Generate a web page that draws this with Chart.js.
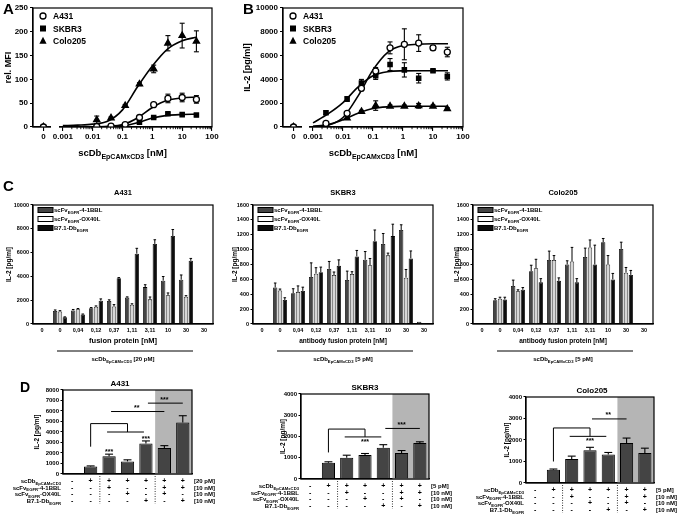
<!DOCTYPE html>
<html>
<head>
<meta charset="utf-8">
<title>Figure</title>
<script src="https://cdn.jsdelivr.net/npm/chart.js@4.4.1/dist/chart.umd.min.js"></script>
<style>
html,body{margin:0;padding:0;background:#fff;}
#fig{position:relative;width:677px;height:517px;overflow:hidden;background:#fff;}
#fig canvas{position:absolute;left:0;top:0;}
</style>
</head>
<body>
<div id="fig">
<canvas id="cA" width="677" height="517"></canvas>
<canvas id="cB" width="677" height="517"></canvas>
<canvas id="cC1" width="677" height="517"></canvas>
<canvas id="cC2" width="677" height="517"></canvas>
<canvas id="cC3" width="677" height="517"></canvas>
<canvas id="cD1" width="677" height="517"></canvas>
<canvas id="cD2" width="677" height="517"></canvas>
<canvas id="cD3" width="677" height="517"></canvas>
</div>
<script>
// ================= DATA =================
// Panel A: rel. MFI vs scDb EpCAMxCD3 [nM]
const concA = [0, 0.0137, 0.0412, 0.123, 0.37, 1.11, 3.33, 10, 30];
const mfiA431 = [0, 1, 2, 5, 20, 47, 60, 62, 58];
const mfiA431Err = [0, 0, 0, 1, 2, 2, 9, 9, 8];
const mfiSKBR3 = [0, 0, 1, 3, 10, 20, 28, 26, 25];
const mfiSKBR3Err = [0, 0, 0, 1, 1, 2, 2, 1, 2];
const mfiColo = [0, 15, 19, 45, 90, 122, 176, 192, 180];
const mfiColoErr = [0, 8, 2, 2, 3, 8, 16, 26, 22];
const fitConc = [0.001, 0.00316, 0.01, 0.0316, 0.1, 0.316, 1, 3.16, 10, 31.6];
const mfiA431Fit = [0, 0.1, 0.3, 1.4, 5, 19, 41, 56, 61, 63];
const mfiSKBR3Fit = [0, 0.1, 0.2, 0.6, 2.5, 9, 19, 24.5, 26.3, 27];
const mfiColoFit = [3, 4, 6, 12, 36, 84, 128, 163, 181, 189];

// Panel B: IL-2 [pg/ml] vs scDb EpCAMxCD3 [nM]
const concB = [0, 0.0027, 0.0137, 0.0412, 0.123, 0.37, 1.11, 3.33, 10, 30];
const il2A431 = [0, 300, 1150, 3250, 4700, 6650, 6950, 7050, 6650, 6300];
const il2A431Err = [0, 0, 100, 200, 300, 500, 1300, 700, 200, 400];
const il2SKBR3 = [0, 1200, 2350, 3700, 4300, 5250, 4800, 4100, 4730, 4250];
const il2SKBR3Err = [0, 150, 200, 300, 300, 500, 600, 400, 100, 300];
const il2Colo = [0, 200, 750, 1300, 1800, 1750, 1750, 1780, 1750, 1520];
const il2ColoErr = [0, 0, 100, 100, 400, 100, 100, 200, 100, 100];
const il2A431Fit = [30, 150, 800, 2600, 4800, 6300, 6850, 6950, 7000, 7000];
const il2SKBR3Fit = [350, 1100, 2050, 3350, 4300, 4650, 4720, 4730, 4730, 4730];
const il2ColoFit = [50, 200, 600, 1150, 1550, 1700, 1740, 1750, 1750, 1750];

const doseTickValues = [0, 0.001, 0.01, 0.1, 1, 10, 100];
const doseTickLabels = ['0', '0.001', '0.01', '0.1', '1', '10', '100'];
const cellLines = ['A431', 'SKBR3', 'Colo205'];

// Panel C: IL-2 [pg/ml] vs fusion protein [nM]
const fusionLabels = ['0', '0', '0,04', '0,12', '0,37', '1,11', '3,11', '10', '30', '30'];
const fusionNames = ['scFv_{EGFR}-4-1BBL', 'scFv_{EGFR}-OX40L', 'B7.1-Db_{EGFR}'];
const cA431_41BBL = [30, 1100, 1140, 1330, 1930, 2220, 3100, 3640, 3720, 30];
const cA431_41BBLErr = [0, 80, 80, 50, 100, 60, 200, 350, 400, 0];
const cA431_OX40L = [30, 1060, 1250, 1450, 1480, 1620, 2070, 2410, 2300, 30];
const cA431_OX40LErr = [0, 60, 50, 70, 150, 80, 200, 200, 80, 0];
const cA431_B71 = [30, 560, 800, 1960, 3840, 5910, 6730, 7390, 5310, 30];
const cA431_B71Err = [0, 40, 40, 150, 60, 450, 350, 550, 200, 0];
const cSKBR3_41BBL = [8, 491, 414, 632, 741, 591, 864, 1077, 1264, 30];
const cSKBR3_41BBLErr = [0, 60, 60, 190, 100, 120, 110, 140, 70, 0];
const cSKBR3_OX40L = [8, 450, 432, 677, 659, 673, 791, 923, 623, 10];
const cSKBR3_OX40LErr = [0, 20, 80, 80, 40, 30, 90, 30, 110, 0];
const cSKBR3_B71 = [8, 323, 445, 695, 782, 909, 1114, 1182, 882, 10];
const cSKBR3_B71Err = [0, 30, 50, 70, 80, 80, 150, 160, 100, 0];
const cColo_41BBL = [8, 320, 510, 710, 860, 800, 900, 1100, 1010, 10];
const cColo_41BBLErr = [0, 20, 80, 80, 120, 50, 120, 50, 90, 0];
const cColo_OX40L = [8, 340, 440, 750, 860, 840, 1030, 800, 690, 10];
const cColo_OX40LErr = [0, 20, 20, 120, 60, 190, 100, 120, 70, 0];
const cColo_B71 = [8, 330, 460, 560, 580, 560, 800, 600, 660, 8];
const cColo_B71Err = [0, 30, 30, 50, 40, 50, 260, 80, 60, 0];

// Panel D: IL-2 [pg/ml] for combinations
const tblLabels = ['scDb_{EpCAMxCD3}', 'scFv_{EGFR}-4-1BBL', 'scFv_{EGFR}-OX40L', 'B7.1-Db_{EGFR}'];
const tblSigns = [
  ['-', '+', '+', '+', '+', '+', '+'],
  ['-', '-', '+', '-', '-', '+', '+'],
  ['-', '-', '-', '+', '-', '+', '-'],
  ['-', '-', '-', '-', '+', '-', '+']
];
const tblUnits20 = ['[20 pM]', '[10 nM]', '[10 nM]', '[10 nM]'];
const tblUnits5 = ['[5 pM]', '[10 nM]', '[10 nM]', '[10 nM]'];
const dA431 = [0, 720, 1690, 1200, 2900, 2480, 4900];
const dA431Err = [0, 50, 200, 150, 250, 220, 650];
const dSKBR3 = [0, 770, 1000, 1130, 1475, 1220, 1690];
const dSKBR3Err = [0, 40, 120, 70, 140, 120, 60];
const dColo = [0, 620, 1120, 1520, 1320, 1860, 1400];
const dColoErr = [0, 30, 130, 140, 100, 230, 220];
// significance marks: category indices and IL-2 levels
const sigA431 = {bracket: {from: 1, to: 3, low: 2600, top: 4800, drop: 4000, lineFrom: 2, lineTo: 4, text: ''},
  lines: [{from: 2, to: 5, val: 5950, text: '**'}, {from: 4, to: 6, val: 6750, text: '***'}],
  bars: [{i: 2, val: 2150, text: '***'}, {i: 4, val: 3450, text: '***'}]};
const sigSKBR3 = {bracket: {from: 1, to: 3, low: 1250, top: 2350, drop: 1980, lineFrom: 2, lineTo: 4, text: '***'},
  lines: [{from: 4, to: 6, val: 2380, text: '***'}], bars: []};
const sigColo = {bracket: {from: 1, to: 3, low: 1000, top: 2560, drop: 2170, lineFrom: 2, lineTo: 4, text: '***'},
  lines: [{from: 3, to: 5, val: 2980, text: '**'}], bars: []};
const shadeFrom = 5;

// ================= DRAWING =================
const W = 677, H = 517;
const FONT = "'Liberation Sans', Arial, Helvetica, sans-serif";
Chart.defaults.font.family = FONT;
Chart.defaults.font.weight = 'bold';
Chart.defaults.color = '#000';
Chart.defaults.animation = false;
Chart.defaults.plugins.legend.display = false;
Chart.defaults.plugins.tooltip.enabled = false;
const fnt = s => 'bold ' + s + 'px ' + FONT;
const ZERO_LOG = -3.65;
const toLog = c => c === 0 ? ZERO_LOG : Math.log10(c);
const plain = v => String(v);

function parseRich(str, main, sub) {
  const parts = []; const re = /_\{([^}]*)\}/g; let last = 0, m;
  while ((m = re.exec(str))) {
    if (m.index > last) parts.push({t: str.slice(last, m.index), s: main, sub: false});
    parts.push({t: m[1], s: sub, sub: true});
    last = re.lastIndex;
  }
  if (last < str.length) parts.push({t: str.slice(last), s: main, sub: false});
  return parts;
}
function rich(ctx, str, x, y, main, sub, align) {
  const parts = parseRich(str, main, sub);
  let w = 0;
  parts.forEach(p => { ctx.font = fnt(p.s); p.w = ctx.measureText(p.t).width; w += p.w; });
  let cx = align === 'center' ? x - w / 2 : align === 'right' ? x - w : x;
  ctx.save(); ctx.fillStyle = '#000'; ctx.textAlign = 'left'; ctx.textBaseline = 'alphabetic';
  parts.forEach(p => { ctx.font = fnt(p.s); ctx.fillText(p.t, cx, y + (p.sub ? main * 0.3 : 0)); cx += p.w; });
  ctx.restore();
}
function txt(ctx, str, x, y, size, align) {
  ctx.save(); ctx.fillStyle = '#000'; ctx.font = fnt(size); ctx.textAlign = align || 'left';
  ctx.textBaseline = 'alphabetic'; ctx.fillText(str, x, y); ctx.restore();
}
function vTxt(ctx, str, x, yc, size) {
  ctx.save(); ctx.translate(x, yc); ctx.rotate(-Math.PI / 2); ctx.fillStyle = '#000';
  ctx.font = fnt(size); ctx.textAlign = 'center'; ctx.textBaseline = 'middle'; ctx.fillText(str, 0, 0); ctx.restore();
}
function frame(c) {
  const a = c.chartArea, ctx = c.ctx;
  ctx.save(); ctx.strokeStyle = '#000'; ctx.lineWidth = 1.2;
  ctx.strokeRect(a.left, a.top, a.right - a.left, a.bottom - a.top); ctx.restore();
}
function line(ctx, x1, y1, x2, y2, w) {
  ctx.save(); ctx.strokeStyle = '#000'; ctx.lineWidth = w || 1; ctx.beginPath();
  ctx.moveTo(x1, y1); ctx.lineTo(x2, y2); ctx.stroke(); ctx.restore();
}
function marker(ctx, style, x, y, r) {
  ctx.save(); ctx.lineWidth = 1.3; ctx.strokeStyle = '#000';
  if (style === 'circle') { ctx.fillStyle = '#fff'; ctx.beginPath(); ctx.arc(x, y, r, 0, Math.PI * 2); ctx.fill(); ctx.stroke(); }
  else if (style === 'rect') { ctx.fillStyle = '#000'; ctx.fillRect(x - r, y - r, 2 * r, 2 * r); }
  else { ctx.fillStyle = '#000'; ctx.beginPath(); ctx.moveTo(x, y - r * 1.15); ctx.lineTo(x + r, y + r * 0.75); ctx.lineTo(x - r, y + r * 0.75); ctx.closePath(); ctx.fill(); }
  ctx.restore();
}

function makeChart(id, rect, yW, xH, cfg, after, before) {
  const o = cfg.options;
  o.responsive = false; o.maintainAspectRatio = false; o.animation = false;
  o.layout = {padding: {left: rect.l - yW, top: rect.t, right: W - rect.r, bottom: H - rect.b - xH}};
  const zero = s => { s.paddingLeft = 0; s.paddingRight = 0; s.paddingTop = 0; s.paddingBottom = 0; };
  o.scales.x.afterFit = s => { s.height = xH; zero(s); };
  o.scales.y.afterFit = s => { s.width = yW; zero(s); };
  cfg.plugins = [{id: 'deco' + id,
    beforeDatasetsDraw: c => { if (before) before(c, c.ctx); },
    afterDraw: c => after(c, c.ctx)}];
  return new Chart(document.getElementById(id), cfg);
}

const axisGrid = len => ({display: true, drawOnChartArea: false, drawTicks: true, tickLength: len, color: '#000', lineWidth: 1.1});
const axisBorder = {display: true, color: '#000', width: 1.2};

// ---------- dose-response panels ----------
function doseChart(id, rect, spec) {
  const pts = (conc, vals) => conc.map((c, i) => ({x: toLog(c), y: vals[i]}));
  const datasets = [];
  spec.series.forEach(s => datasets.push({data: pts(spec.conc, s.vals), showLine: false, pointStyle: s.style,
    pointRadius: s.r, backgroundColor: s.style === 'circle' ? '#fff' : '#000', borderColor: '#000', pointBorderWidth: 1.3, order: 1}));
  spec.series.forEach(s => datasets.push({data: pts(fitConc, s.fit), showLine: true, borderColor: '#000', borderWidth: 1.6,
    pointRadius: 0, cubicInterpolationMode: 'monotone', order: 2}));
  const cfg = {type: 'scatter', data: {datasets},
    options: {scales: {
      x: {type: 'linear', min: -4, max: 2,
        afterBuildTicks: s => { s.ticks = doseTickValues.map(v => ({value: toLog(v)})); },
        ticks: {autoSkip: false, maxRotation: 0, font: {size: 8}, padding: 1, callback: (v, i) => doseTickLabels[i]},
        grid: axisGrid(4), border: axisBorder},
      y: {min: 0, max: spec.yMax, ticks: {stepSize: spec.yStep, font: {size: 8}, padding: 2, callback: plain},
        grid: axisGrid(3), border: axisBorder}}}};
  makeChart(id, rect, 30, 20, cfg, (c, ctx) => {
    const a = c.chartArea, xs = c.scales.x;
    frame(c);
    for (let n = -3; n <= 1; n++) for (let k = 2; k <= 9; k++) {
      const x = xs.getPixelForValue(n + Math.log10(k));
      line(ctx, x, a.bottom, x, a.bottom + 2.2, 0.9);
    }
    const g1 = xs.getPixelForValue(-3.38), g2 = xs.getPixelForValue(-3.12);
    ctx.clearRect(g1, a.bottom - 2, g2 - g1, 7);
    spec.series.forEach((s, k) => {
      const y = a.top + 8 + k * 12.5;
      marker(ctx, s.style, a.left + 10, y, s.r);
      txt(ctx, s.name, a.left + 20, y + 3, 8.5, 'left');
    });
    txt(ctx, spec.letter, spec.letterX, 14, 15, 'left');
    vTxt(ctx, spec.yTitle, spec.yTitleX, (a.top + a.bottom) / 2, 9);
    rich(ctx, 'scDb_{EpCAMxCD3} [nM]', (a.left + a.right) / 2, 156, 9.5, 7, 'center');
  }, (c, ctx) => {
    const xs = c.scales.x, ys = c.scales.y;
    spec.series.forEach(s => s.err.forEach((e, i) => {
      if (!e) return;
      const x = xs.getPixelForValue(toLog(spec.conc[i]));
      const y1 = ys.getPixelForValue(s.vals[i] - e), y2 = ys.getPixelForValue(s.vals[i] + e);
      line(ctx, x, y1, x, y2, 1.1); line(ctx, x - 2.5, y1, x + 2.5, y1, 1.1); line(ctx, x - 2.5, y2, x + 2.5, y2, 1.1);
    }));
  });
}

doseChart('cA', {l: 33, t: 8, r: 212, b: 127}, {letter: 'A', letterX: 3, yTitle: 'rel. MFI', yTitleX: 9,
  yMax: 250, yStep: 50, conc: concA,
  series: [
    {name: cellLines[0], style: 'circle', r: 3, vals: mfiA431, err: mfiA431Err, fit: mfiA431Fit},
    {name: cellLines[1], style: 'rect', r: 3, vals: mfiSKBR3, err: mfiSKBR3Err, fit: mfiSKBR3Fit},
    {name: cellLines[2], style: 'triangle', r: 3.6, vals: mfiColo, err: mfiColoErr, fit: mfiColoFit}]});
doseChart('cB', {l: 283, t: 8, r: 463, b: 127}, {letter: 'B', letterX: 243, yTitle: 'IL-2 [pg/ml]', yTitleX: 248,
  yMax: 10000, yStep: 2000, conc: concB,
  series: [
    {name: cellLines[0], style: 'circle', r: 3, vals: il2A431, err: il2A431Err, fit: il2A431Fit},
    {name: cellLines[1], style: 'rect', r: 3, vals: il2SKBR3, err: il2SKBR3Err, fit: il2SKBR3Fit},
    {name: cellLines[2], style: 'triangle', r: 3.6, vals: il2Colo, err: il2ColoErr, fit: il2ColoFit}]});

// ---------- Panel C grouped bars ----------
const barFills = ['#454545', '#d6d6d6', '#0d0d0d'];
const legendFills = ['#454545', '#ffffff', '#0d0d0d'];
function groupChart(id, rect, spec) {
  const datasets = spec.vals.map((v, k) => ({data: v, backgroundColor: barFills[k], borderColor: '#000', borderWidth: 0.8,
    categoryPercentage: 0.8, barPercentage: 0.9}));
  const cfg = {type: 'bar', data: {labels: fusionLabels, datasets},
    options: {scales: {
      x: {type: 'category', ticks: {autoSkip: false, maxRotation: 0, font: {size: 5.5}, padding: 3},
        grid: {display: false, drawTicks: false}, border: axisBorder},
      y: {min: 0, max: spec.yMax, ticks: {stepSize: spec.yStep, font: {size: 5.5}, padding: 1.5, callback: plain},
        grid: axisGrid(2.5), border: axisBorder}}}};
  makeChart(id, rect, 26, 14, cfg, (c, ctx) => {
    const a = c.chartArea, ys = c.scales.y;
    spec.vals.forEach((vals, k) => {
      const meta = c.getDatasetMeta(k);
      vals.forEach((v, j) => {
        const e = spec.errs[k][j]; if (!e) return;
        const el = meta.data[j]; const y1 = ys.getPixelForValue(v), y2 = ys.getPixelForValue(v + e);
        const hw = el.width * 0.3;
        line(ctx, el.x, y1, el.x, y2, 1); line(ctx, el.x - hw, y2, el.x + hw, y2, 1);
      });
    });
    frame(c);
    fusionNames.forEach((nm, k) => {
      const y = a.top + 5 + k * 9;
      ctx.save(); ctx.fillStyle = legendFills[k]; ctx.strokeStyle = '#000'; ctx.lineWidth = 1;
      ctx.fillRect(a.left + 5, y - 2.5, 15, 5); ctx.strokeRect(a.left + 5, y - 2.5, 15, 5); ctx.restore();
      rich(ctx, nm, a.left + 21, y + 2, 6, 4.2, 'left');
    });
    const cx = (a.left + a.right) / 2;
    txt(ctx, spec.title, cx, a.top - 10, 7.5, 'center');
    vTxt(ctx, 'IL-2 [pg/ml]', spec.yTitleX, (a.top + a.bottom) / 2, 6.5);
    txt(ctx, spec.xTitle, cx, a.bottom + 19, spec.xTitleSize, 'center');
    line(ctx, a.left + 24, a.bottom + 27, a.right - 20, a.bottom + 27, 1);
    rich(ctx, 'scDb_{EpCAMxCD3} [' + spec.scDb + ']', cx, a.bottom + 37, 6, 4.2, 'center');
    if (spec.letter) txt(ctx, spec.letter, 3, 191, 15, 'left');
  });
}
groupChart('cC1', {l: 33, t: 205, r: 213, b: 324}, {title: cellLines[0], letter: 'C', yTitleX: 9, yMax: 10000, yStep: 2000,
  xTitle: 'fusion protein [nM]', xTitleSize: 7.5, scDb: '20 pM',
  vals: [cA431_41BBL, cA431_OX40L, cA431_B71], errs: [cA431_41BBLErr, cA431_OX40LErr, cA431_B71Err]});
groupChart('cC2', {l: 253, t: 205, r: 433, b: 324}, {title: cellLines[1], yTitleX: 235, yMax: 1600, yStep: 200,
  xTitle: 'antibody fusion protein [nM]', xTitleSize: 6.5, scDb: '5 pM',
  vals: [cSKBR3_41BBL, cSKBR3_OX40L, cSKBR3_B71], errs: [cSKBR3_41BBLErr, cSKBR3_OX40LErr, cSKBR3_B71Err]});
groupChart('cC3', {l: 473, t: 205, r: 653, b: 324}, {title: cellLines[2], yTitleX: 457, yMax: 1600, yStep: 200,
  xTitle: 'antibody fusion protein [nM]', xTitleSize: 6.5, scDb: '5 pM',
  vals: [cColo_41BBL, cColo_OX40L, cColo_B71], errs: [cColo_41BBLErr, cColo_OX40LErr, cColo_B71Err]});

// ---------- Panel D combination bars ----------
function comboChart(id, rect, spec) {
  const cfg = {type: 'bar', data: {labels: tblSigns[0].map((s, i) => String(i)),
      datasets: [{data: spec.vals, backgroundColor: '#444444', borderColor: '#000', borderWidth: 1,
        categoryPercentage: 0.72, barPercentage: 1}]},
    options: {scales: {
      x: {type: 'category', ticks: {display: false}, grid: {display: false, drawTicks: false}, border: axisBorder},
      y: {min: 0, max: spec.yMax, ticks: {stepSize: 1000, font: {size: 6}, padding: 1.5, callback: plain},
        grid: axisGrid(2.5), border: axisBorder}}}};
  makeChart(id, rect, 24, 2, cfg, (c, ctx) => {
    const a = c.chartArea, xs = c.scales.x, ys = c.scales.y;
    const X = i => xs.getPixelForValue(i), Y = v => ys.getPixelForValue(v);
    const meta = c.getDatasetMeta(0);
    spec.vals.forEach((v, j) => {
      const e = spec.errs[j]; if (!e) return;
      const el = meta.data[j]; const hw = el.width * 0.3;
      line(ctx, el.x, Y(v), el.x, Y(v + e), 1.1); line(ctx, el.x - hw, Y(v + e), el.x + hw, Y(v + e), 1.1);
    });
    frame(c);
    const sg = spec.sig, b = sg.bracket;
    ctx.save(); ctx.strokeStyle = '#000'; ctx.lineWidth = 1; ctx.beginPath();
    ctx.moveTo(X(b.from), Y(b.low)); ctx.lineTo(X(b.from), Y(b.top)); ctx.lineTo(X(b.to), Y(b.top)); ctx.lineTo(X(b.to), Y(b.drop));
    ctx.moveTo(X(b.lineFrom) - 2, Y(b.drop)); ctx.lineTo(X(b.lineTo) - 2, Y(b.drop)); ctx.stroke(); ctx.restore();
    if (b.text) txt(ctx, b.text, X(b.to), Y(b.drop) + 7, 7, 'center');
    sg.lines.forEach(l => {
      line(ctx, X(l.from) + 2, Y(l.val), X(l.to), Y(l.val), 1);
      txt(ctx, l.text, (X(l.from) + X(l.to)) / 2, Y(l.val) - 1.5, 7, 'center');
    });
    sg.bars.forEach(s => txt(ctx, s.text, X(s.i), Y(s.val) + 3, 7, 'center'));
    // table
    const step = 6.6, y0 = a.bottom + 9;
    tblLabels.forEach((lab, r) => {
      const y = y0 + r * step;
      rich(ctx, lab, a.left - 2, y, 6, 4.2, 'right');
      tblSigns[r].forEach((s, i) => txt(ctx, s, X(i), y, 7, 'center'));
      txt(ctx, spec.units[r], a.right + 2, y, 6, 'left');
    });
    ctx.save(); ctx.strokeStyle = '#000'; ctx.lineWidth = 0.8; ctx.setLineDash([1, 1.5]);
    [2, shadeFrom].forEach(d => {
      const x = (X(d - 1) + X(d)) / 2;
      ctx.beginPath(); ctx.moveTo(x, a.bottom + 2); ctx.lineTo(x, y0 + 3 * step + 1); ctx.stroke();
    });
    ctx.restore();
    txt(ctx, spec.title, spec.titleX, a.top - 4, 8, 'center');
    vTxt(ctx, 'IL-2 [pg/ml]', spec.yTitleX, (a.top + a.bottom) / 2, 6.5);
    if (spec.letter) txt(ctx, spec.letter, 20, 392, 14, 'left');
  }, (c, ctx) => {
    const a = c.chartArea, xs = c.scales.x;
    const x = (xs.getPixelForValue(shadeFrom - 1) + xs.getPixelForValue(shadeFrom)) / 2;
    ctx.save(); ctx.fillStyle = '#b5b5b5'; ctx.fillRect(x, a.top, a.right - x, a.bottom - a.top); ctx.restore();
  });
}
comboChart('cD1', {l: 63, t: 390, r: 192, b: 474}, {title: cellLines[0], titleX: 120, letter: 'D', yTitleX: 37, yMax: 8000,
  vals: dA431, errs: dA431Err, sig: sigA431, units: tblUnits20});
comboChart('cD2', {l: 301, t: 394, r: 429, b: 479}, {title: cellLines[1], titleX: 365, yTitleX: 283, yMax: 4000,
  vals: dSKBR3, errs: dSKBR3Err, sig: sigSKBR3, units: tblUnits5});
comboChart('cD3', {l: 526, t: 397, r: 654, b: 483}, {title: cellLines[2], titleX: 592, yTitleX: 507, yMax: 4000,
  vals: dColo, errs: dColoErr, sig: sigColo, units: tblUnits5});
</script>
</body>
</html>
